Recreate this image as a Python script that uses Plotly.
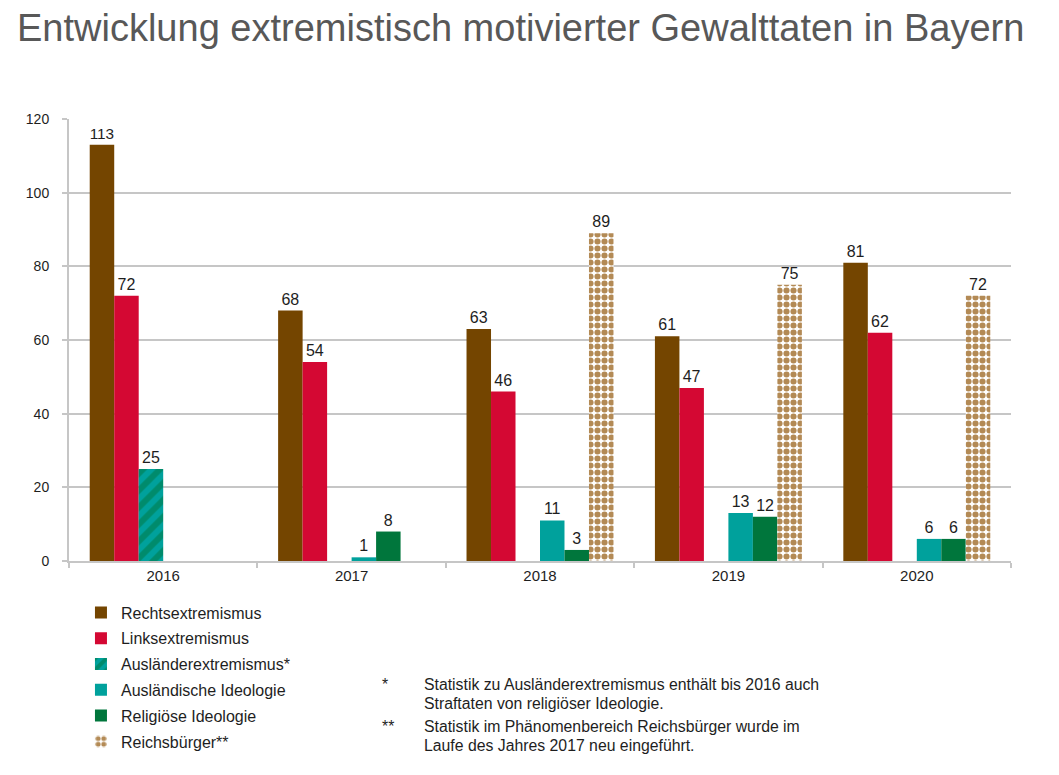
import plotly.graph_objects as go

jahre = ["2016", "2017", "2018", "2019", "2020"]
rechts = [113, 68, 63, 61, 81]
links = [72, 54, 46, 47, 62]
auslaender_extr = [25, None, None, None, None]
auslaend_ideologie = [None, 1, 11, 13, 6]
relig_ideologie = [None, 8, 3, 12, 6]
reichsbuerger = [None, None, 89, 75, 72]

FONT = "Liberation Sans"
TXT = "#1e1e1e"

# page body has an 8px margin, so figure coords = screen coords - 8
W, H = 1051, 767
PL, PR, PT, PB = 61, 1003, 111, 553

fig = go.Figure()

def add_bar(name, values, color, pattern=None):
    marker = dict(color=color, line=dict(width=0))
    if pattern:
        marker["pattern"] = pattern
    fig.add_trace(go.Bar(
        x=jahre, y=values, name=name, legendgroup=name,
        marker=marker,
        text=[("" if v is None else str(v)) for v in values],
        textposition="outside", cliponaxis=False,
        textfont=dict(family=FONT, size=16, color=TXT),
    ))

add_bar("Rechtsextremismus", rechts, "#744500")
add_bar("Linksextremismus", links, "#d40833")
add_bar("Ausländerextremismus*", auslaender_extr, "#00a19c",
        dict(shape="/", fgcolor="#00763c", bgcolor="#00a19c", size=12, solidity=0.5))
add_bar("Ausländische Ideologie", auslaend_ideologie, "#00a19c")
add_bar("Religiöse Ideologie", relig_ideologie, "#00763c")
add_bar("Reichsbürger**", reichsbuerger, "#ffffff",
        dict(shape=".", fgcolor="#b38a55", bgcolor="#ffffff", size=7, solidity=0.6,
             fillmode="replace"))

fig.update_layout(
    width=W, height=H,
    margin=dict(l=PL, r=W - PR, t=PT, b=H - PB),
    paper_bgcolor="white", plot_bgcolor="white",
    barmode="group", bargap=0.22, bargroupgap=0,
    font=dict(family=FONT, size=14, color=TXT),
    title=dict(text="Entwicklung extremistisch motivierter Gewalttaten in Bayern",
               x=9 / W, xanchor="left", y=1 - 6 / H, yanchor="top",
               font=dict(family=FONT, size=38, color="#585858")),
    showlegend=True,
    legend=dict(x=0.0127, xanchor="left", y=-0.078, yanchor="top",
                orientation="v", tracegroupgap=2,
                font=dict(family=FONT, size=16, color=TXT),
                bgcolor="rgba(0,0,0,0)"),
    xaxis=dict(type="category", showgrid=False, showline=True, linecolor="#c6c6c6",
               linewidth=2, ticks="outside", tickson="boundaries", ticklen=5,
               tickcolor="#c6c6c6", tickwidth=2,
               tickfont=dict(family=FONT, size=15, color=TXT)),
    yaxis=dict(range=[0, 120], dtick=20, showgrid=True, gridcolor="#c6c6c6", gridwidth=2,
               showline=True, linecolor="#c6c6c6", linewidth=2, ticks="outside",
               ticklen=5, tickcolor="#c6c6c6", tickwidth=2, zeroline=False,
               ticklabelstandoff=10,
               tickfont=dict(family=FONT, size=14, color=TXT)),
)

PH = PB - PT
PW = PR - PL

def note(text, sx, sy):
    # sx, sy: screen position of the text's left / vertical centre
    fig.add_annotation(text=text, xref="paper", yref="paper",
                       x=(sx - 8 - PL) / PW, y=(PB - (sy - 8)) / PH,
                       xanchor="left", yanchor="middle", align="left", showarrow=False,
                       font=dict(family=FONT, size=15.8, color=TXT))

note("*", 380, 684)
note("Statistik zu Ausländerextremismus enthält bis 2016 auch", 422, 684)
note("Straftaten von religiöser Ideologie.", 422, 703)
note("**", 380, 726)
note("Statistik im Phänomenbereich Reichsbürger wurde im", 422, 726)
note("Laufe des Jahres 2017 neu eingeführt.", 422, 745)

fig.write_html("out.html")
